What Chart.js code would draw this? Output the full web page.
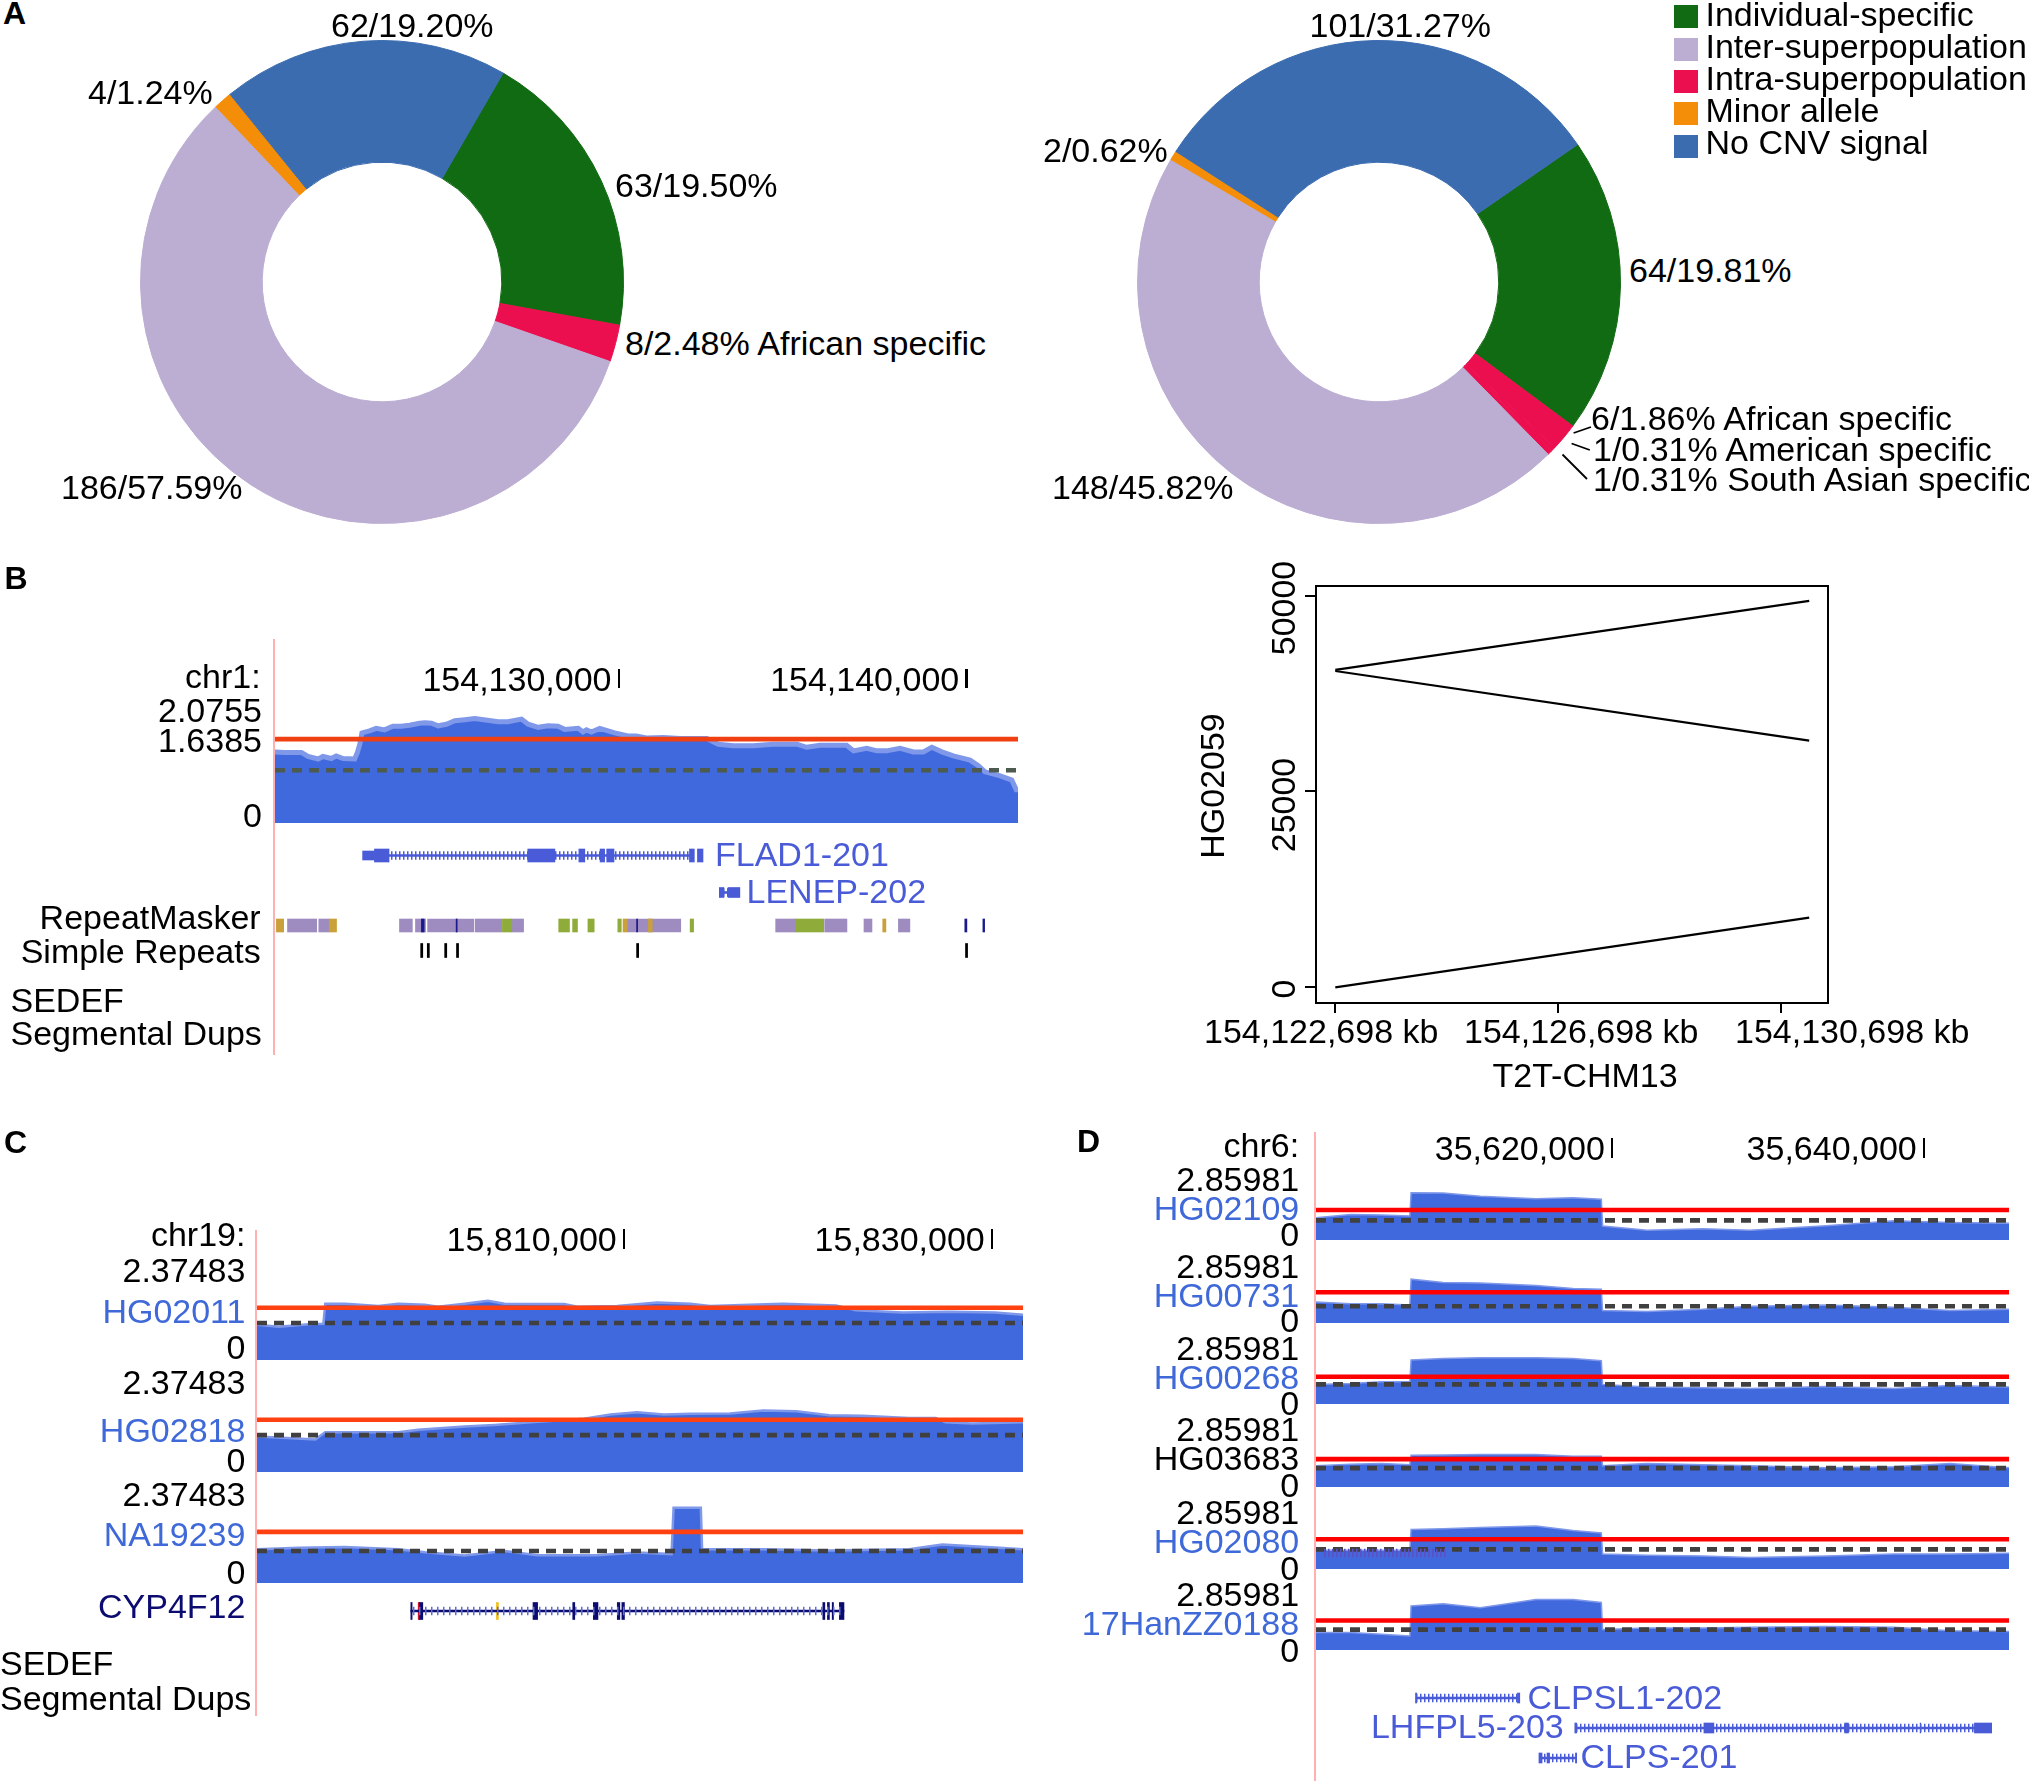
<!DOCTYPE html>
<html>
<head>
<meta charset="utf-8">
<title>CNV figure</title>
<script src="https://cdn.jsdelivr.net/npm/chart.js@4/dist/chart.umd.min.js"></script>
<style>
  html, body { margin: 0; padding: 0; background: #fff; }
  #page { position: relative; width: 2029px; height: 1781px; overflow: hidden; font-family: "Liberation Sans", Arial, sans-serif; }
  #page canvas { position: absolute; }
  .txt { position: absolute; white-space: nowrap; line-height: 1; color: #000; }
  .mark { position: absolute; }
  svg { position: absolute; left: 0; top: 0; }
</style>
</head>
<body>
<div id="page"></div>
<script>
// panel A
const categories = ['Individual-specific', 'Inter-superpopulation', 'Intra-superpopulation', 'Minor allele', 'No CNV signal'];
const categoryColors = ['#116b13', '#bcaed3', '#ec0f4f', '#f48d07', '#3b6cb0'];
const pieLeftValues = [63, 8, 186, 4, 62];
const pieLeftColors = ['#116b13', '#ec0f4f', '#bcaed3', '#f48d07', '#3b6cb0'];
const pieRightValues = [64, 6, 1, 1, 148, 2, 101];
const pieRightColors = ['#116b13', '#ec0f4f', '#ec0f4f', '#ec0f4f', '#bcaed3', '#f48d07', '#3b6cb0'];

// panel B coverage (kb on chr1, copy number)
const bTicks = [154130, 154140];
const bKb = [154120.11, 154120.40, 154120.88, 154121.07, 154121.36, 154121.50, 154121.74, 154121.88, 154122.08, 154122.41, 154122.49, 154122.56, 154122.62, 154122.84, 154123.03, 154123.27, 154123.51, 154123.75, 154123.99, 154124.28, 154124.43, 154124.62, 154124.81, 154125.05, 154125.29, 154125.58, 154125.86, 154126.34, 154126.53, 154126.82, 154127.21, 154127.40, 154127.69, 154127.97, 154128.26, 154128.45, 154128.84, 154128.98, 154129.08, 154129.22, 154129.46, 154129.70, 154129.89, 154130.27, 154130.51, 154130.80, 154131.29, 154131.77, 154132.54, 154132.87, 154133.30, 154133.88, 154134.45, 154135.13, 154135.41, 154135.80, 154136.18, 154136.56, 154136.76, 154137.14, 154137.43, 154137.71, 154138.10, 154138.48, 154138.77, 154139.01, 154139.30, 154139.63, 154140.11, 154140.35, 154140.54, 154140.98, 154141.31, 154141.44, 154141.50];
const bCover = [1.39, 1.38, 1.38, 1.30, 1.25, 1.30, 1.26, 1.31, 1.26, 1.25, 1.38, 1.54, 1.76, 1.80, 1.85, 1.82, 1.89, 1.89, 1.91, 1.95, 1.96, 1.95, 1.90, 1.93, 2.00, 2.02, 2.04, 2.00, 1.98, 1.98, 2.03, 1.93, 1.87, 1.90, 1.89, 1.83, 1.85, 1.78, 1.82, 1.78, 1.85, 1.80, 1.76, 1.70, 1.70, 1.66, 1.67, 1.65, 1.65, 1.54, 1.51, 1.51, 1.54, 1.54, 1.48, 1.52, 1.52, 1.52, 1.41, 1.46, 1.41, 1.41, 1.46, 1.39, 1.39, 1.48, 1.39, 1.31, 1.23, 1.12, 1.00, 0.92, 0.84, 0.65, 0.65];
const flad1Exons = [[154122.98, 154123.40], [154127.39, 154128.17], [154128.86, 154129.03], [154129.47, 154129.60], [154129.66, 154129.87], [154132.04, 154132.18], [154132.27, 154132.43]];
const flad1Utr = [[154122.64, 154122.98]];
const flad1Intron = [[154123.40, 154132.04]];
const lenepExons = [[154132.90, 154133.03], [154133.15, 154133.49]];
const lenepIntron = [[154133.03, 154133.15]];
const repeatPurple = [[154120.48, 154121.32], [154121.38, 154121.68], [154123.70, 154124.07], [154124.16, 154124.45], [154124.51, 154125.84], [154125.88, 154126.64], [154126.93, 154127.27], [154130.25, 154131.79], [154134.52, 154135.11], [154135.93, 154136.57], [154137.06, 154137.29], [154138.05, 154138.38]];
const repeatGold = [[154120.16, 154120.37], [154121.68, 154121.89], [154130.13, 154130.25], [154130.86, 154130.97], [154137.60, 154137.69]];
const repeatGreen = [[154126.66, 154126.93], [154128.28, 154128.59], [154128.68, 154128.82], [154129.12, 154129.30], [154129.98, 154130.08], [154132.06, 154132.16], [154135.11, 154135.90]];
const repeatNavy = [[154124.33, 154124.41], [154125.33, 154125.36], [154130.52, 154130.55], [154139.96, 154140.02], [154140.48, 154140.53]];
const simpleRepeats = [[154124.31, 154124.37], [154124.50, 154124.56], [154125.00, 154125.06], [154125.34, 154125.40], [154130.52, 154130.58], [154139.98, 154140.04]];

// panel B dot plot (bp)
const dotXTicks = [154122698, 154126698, 154130698];
const dotYTicks = [0, 25000, 50000];
const dotX = [154122698, 154131198];
const dotLine1 = [0, 8896];
const dotLine2 = [40511, 49316];
const dotLine3 = [40374, 31478];

// panel C coverage (kb on chr19)
const cTicks = [15810, 15830];
const cSamples = ['HG02011', 'HG02818', 'NA19239'];
const cKb1 = [15790.07, 15791.26, 15793.06, 15793.68, 15793.78, 15794.86, 15796.67, 15797.75, 15799.19, 15799.91, 15801.35, 15802.62, 15803.52, 15806.76, 15807.48, 15809.65, 15811.81, 15813.61, 15814.69, 15816.85, 15818.66, 15821.54, 15822.62, 15825.14, 15827.67, 15830.19, 15831.70];
const cCover1 = [0.95, 0.90, 0.97, 0.98, 1.52, 1.52, 1.46, 1.52, 1.49, 1.44, 1.52, 1.60, 1.52, 1.51, 1.44, 1.46, 1.55, 1.52, 1.46, 1.49, 1.52, 1.47, 1.34, 1.28, 1.30, 1.28, 1.22];
const cKb2 = [15790.07, 15791.98, 15793.24, 15793.78, 15795.95, 15797.75, 15798.83, 15801.35, 15802.97, 15804.96, 15807.84, 15809.28, 15810.73, 15812.17, 15813.61, 15815.77, 15817.58, 15819.38, 15821.18, 15822.98, 15825.51, 15826.95, 15827.49, 15828.93, 15831.70];
const cCover2 = [0.96, 0.91, 0.88, 1.07, 1.07, 1.07, 1.14, 1.23, 1.27, 1.34, 1.44, 1.55, 1.61, 1.55, 1.57, 1.58, 1.66, 1.64, 1.53, 1.52, 1.46, 1.46, 1.34, 1.31, 1.34];
const cKb3 = [15790.07, 15792.34, 15794.86, 15797.75, 15799.19, 15801.35, 15803.52, 15805.32, 15808.56, 15810.73, 15812.60, 15812.71, 15814.19, 15814.26, 15817.58, 15821.18, 15825.51, 15827.31, 15830.19, 15831.70];
const cCover3 = [0.91, 0.95, 0.97, 0.91, 0.83, 0.74, 0.86, 0.75, 0.75, 0.82, 0.78, 2.03, 2.03, 0.91, 0.91, 0.88, 0.91, 1.04, 0.96, 0.91];
const cRed = [1.41, 1.41, 1.38];
const cDash = [1.0, 0.995, 0.865];
const cypExons = [[15798.43, 15798.50], [15798.90, 15799.08], [15805.07, 15805.32], [15807.23, 15807.34], [15808.35, 15808.60], [15809.65, 15809.79], [15809.90, 15810.04], [15820.82, 15820.93], [15821.07, 15821.18], [15821.33, 15821.40], [15821.72, 15821.97]];
const cypRed = [[15798.83, 15798.92]];
const cypYellow = [[15803.08, 15803.19]];
const cypIntron = [[15798.43, 15821.97]];

// panel D coverage (kb on chr6)
const dTicks = [35620, 35640];
const dSamples = ['HG02109', 'HG00731', 'HG00268', 'HG03683', 'HG02080', '17HanZZ0188'];
const dKb = [35601.02, 35603.24, 35605.22, 35607.04, 35607.12, 35609.18, 35611.56, 35615.13, 35617.50, 35619.32, 35619.40, 35622.26, 35625.82, 35628.87, 35633.75, 35638.10, 35641.67, 35645.47];
const dCover1 = [1.16, 1.33, 1.30, 1.25, 2.46, 2.45, 2.27, 2.14, 2.20, 2.12, 0.73, 0.51, 0.58, 0.51, 0.74, 1.00, 0.91, 0.87];
const dCover2 = [1.09, 1.00, 1.00, 0.94, 2.28, 2.10, 2.08, 1.95, 1.80, 1.76, 0.65, 0.60, 0.71, 0.87, 0.94, 0.82, 0.65, 0.71];
const dCover3 = [1.02, 1.07, 1.16, 1.16, 2.29, 2.36, 2.41, 2.41, 2.36, 2.25, 1.02, 0.89, 0.85, 0.80, 0.91, 0.80, 0.96, 0.89];
const dCover4 = [1.11, 1.18, 1.22, 1.16, 1.65, 1.67, 1.69, 1.69, 1.60, 1.60, 1.11, 1.22, 1.16, 1.11, 1.00, 1.05, 1.22, 1.00];
const dCover5 = [0.98, 0.98, 0.98, 0.98, 2.05, 2.09, 2.16, 2.23, 2.00, 1.87, 0.78, 0.71, 0.67, 0.60, 0.67, 0.78, 0.78, 0.82];
const dCover6 = [0.91, 0.91, 0.82, 0.73, 2.29, 2.41, 2.20, 2.63, 2.63, 2.47, 1.07, 1.14, 1.14, 1.18, 1.22, 1.18, 1.00, 0.96];
const dRed = [1.56, 1.60, 1.42, 1.45, 1.55, 1.53];
const dDash = [1.02, 0.87, 1.02, 0.98, 1.02, 1.06];
const clpsl1Exons = [[35607.40, 35607.48], [35613.94, 35614.09]];
const clpsl1Intron = [[35607.48, 35613.94]];
const lhfpl5Exons = [[35617.62, 35617.74], [35625.90, 35626.54], [35634.93, 35635.17], [35639.77, 35639.81], [35643.25, 35644.36]];
const lhfpl5Intron = [[35617.74, 35643.25]];
const clpsExons = [[35615.32, 35615.52], [35615.84, 35616.00], [35617.66, 35617.74]];
const clpsIntron = [[35615.52, 35617.66]];
const hg02080Ghost = [[35601.46, 35609.38]];

const page = document.getElementById('page');
const BASE = 0.8465;
const FONT = 34;
const LINK_BLUE = '#3f69d8';
const GENE_BLUE = '#4a5bd8';
const NAVY = '#0b0b70';

Chart.defaults.animation = false;
Chart.defaults.responsive = false;
Chart.defaults.devicePixelRatio = 1;
Chart.defaults.plugins.legend.display = false;
Chart.defaults.plugins.tooltip.enabled = false;

function addText(text, x, base, opt) {
    opt = opt || {};
    const size = opt.size || FONT;
    const el = document.createElement('div');
    el.className = 'txt';
    el.textContent = text;
    el.style.fontSize = size + 'px';
    if (opt.color) el.style.color = opt.color;
    if (opt.bold) el.style.fontWeight = 'bold';
    el.style.top = (base + 0.8 - BASE * size) + 'px';
    if (opt.right) el.style.right = (2029 - x) + 'px';
    else el.style.left = x + 'px';
    page.appendChild(el);
    return el;
}

// reads bottom to top, x is the baseline and y the middle of the text
function addTextUp(text, x, y) {
    const el = document.createElement('div');
    el.className = 'txt';
    el.textContent = text;
    el.style.fontSize = FONT + 'px';
    el.style.left = x + 'px';
    el.style.top = y + 'px';
    el.style.transformOrigin = '0 0';
    el.style.transform = 'rotate(-90deg) translate(-50%, -' + BASE + 'em)';
    page.appendChild(el);
}

function addBox(x, y, w, h, color) {
    const el = document.createElement('div');
    el.className = 'mark';
    el.style.cssText = 'left:' + x + 'px;top:' + y + 'px;width:' + w + 'px;height:' + h + 'px;background:' + color;
    page.appendChild(el);
}

function newCanvas(x, y, w, h) {
    const c = document.createElement('canvas');
    c.width = w;
    c.height = h;
    c.style.left = x + 'px';
    c.style.top = y + 'px';
    c.style.width = w + 'px';
    c.style.height = h + 'px';
    page.appendChild(c);
    return c;
}

function donut(x, y, size, values, colors, rotation) {
    return new Chart(newCanvas(x, y, size, size), {
        type: 'doughnut',
        data: { labels: values.map(String), datasets: [{ data: values, backgroundColor: colors, borderColor: colors, borderWidth: 1, hoverBorderWidth: 0 }] },
        options: { cutout: '49.6%', rotation: rotation, layout: { padding: 0 } }
    });
}

function toXY(xs, ys) {
    return xs.map((x, i) => ({ x: x, y: ys[i] }));
}

// one coverage track: fill, light top edge, cut-off line and dashed diploid line
function track(rect, xMin, xMax, yMax, xs, ys, red, dash, o) {
    return new Chart(newCanvas(rect[0], rect[1], rect[2], rect[3]), {
        type: 'line',
        data: {
            datasets: [
                { data: toXY([xMin, xMax], [dash, dash]), borderColor: o.dashColor, borderWidth: 4.6, borderDash: [10, 7], pointRadius: 0, fill: false },
                { data: toXY([xMin, xMax], [red, red]), borderColor: o.redColor, borderWidth: 4.6, pointRadius: 0, fill: false },
                { data: toXY(xs, ys), borderColor: '#7f98ea', borderWidth: o.edge, backgroundColor: '#4169de', pointRadius: 0, fill: 'origin', tension: 0 }
            ]
        },
        options: {
            layout: { padding: 0 },
            scales: {
                x: { type: 'linear', min: xMin, max: xMax, display: false },
                y: { min: 0, max: yMax, display: false }
            }
        }
    });
}

function spanData(spans, row) {
    return spans.map(s => ({ x: s, y: row }));
}

// stripes for the intron hatching
function hatch(color, period) {
    const t = document.createElement('canvas');
    t.width = period;
    t.height = 4;
    const g = t.getContext('2d');
    g.fillStyle = color;
    g.fillRect(0, 0, 1.5, 4);
    return g.createPattern(t, 'repeat');
}

function rowChart(rect, xMin, xMax, rows, datasets) {
    return new Chart(newCanvas(rect[0], rect[1], rect[2], rect[3]), {
        type: 'bar',
        data: { labels: rows, datasets: datasets.map(d => Object.assign({ grouped: false, borderWidth: 0 }, d)) },
        options: {
            indexAxis: 'y',
            layout: { padding: 0 },
            scales: {
                x: { type: 'linear', min: xMin, max: xMax, display: false },
                y: { type: 'category', labels: rows, display: false }
            }
        }
    });
}

function geneDatasets(spansList, row, color, hatchColor, period) {
    const out = [];
    if (spansList.intron) {
        out.push({ data: spanData(spansList.intron, row), backgroundColor: hatch(hatchColor || color, period || 4), barThickness: 8 });
        out.push({ data: spanData(spansList.intron, row), backgroundColor: color, barThickness: 2 });
    }
    if (spansList.utr) out.push({ data: spanData(spansList.utr, row), backgroundColor: color, barThickness: 9 });
    if (spansList.exons) out.push({ data: spanData(spansList.exons, row), backgroundColor: color, barThickness: spansList.h || 13 });
    return out;
}

// the "154,130,000 |" labels above a track, placed through the track's x scale
function rulerLabels(chart, ticks, canvasLeft, base, tickTop, tickH) {
    ticks.forEach(t => {
        const px = canvasLeft + chart.scales.x.getPixelForValue(t);
        addBox(px - 1, tickTop, 2.5, tickH, '#000');
        addText((t * 1000).toLocaleString('en-US'), px - 7, base, { right: true });
    });
}

// ---------- panel A ----------
addText('A', 3, 23, { bold: true, size: 32 });
donut(140, 40, 484, pieLeftValues, pieLeftColors, 30.1);
addText('62/19.20%', 331, 36);
addText('4/1.24%', 88, 102.6);
addText('63/19.50%', 615, 195.6);
addText('8/2.48% African specific', 625, 354);
addText('186/57.59%', 61, 498);

donut(1137, 40, 484, pieRightValues, pieRightColors, 55.3);
addText('101/31.27%', 1309.5, 36);
addText('2/0.62%', 1043, 161);
addText('64/19.81%', 1629, 281);
addText('148/45.82%', 1052, 498);
addText('6/1.86% African specific', 1591, 428.7);
addText('1/0.31% American specific', 1593, 460.4);
addText('1/0.31% South Asian specific', 1593, 490);

const legendTops = [5, 38, 70, 102, 135];
const legendBases = [24.8, 56.8, 88.8, 121, 153];
categories.forEach((name, i) => {
    addBox(1674, legendTops[i], 23.5, 23, categoryColors[i]);
    addText(name, 1705.5, legendBases[i]);
});

const leaders = document.createElementNS('http://www.w3.org/2000/svg', 'svg');
leaders.setAttribute('width', 2029);
leaders.setAttribute('height', 1781);
[[1573.6, 433, 1591, 427], [1571.6, 443.5, 1589.8, 450], [1562.5, 454.5, 1587, 479]].forEach(l => {
    const line = document.createElementNS('http://www.w3.org/2000/svg', 'line');
    line.setAttribute('x1', l[0]);
    line.setAttribute('y1', l[1]);
    line.setAttribute('x2', l[2]);
    line.setAttribute('y2', l[3]);
    line.setAttribute('stroke', '#000');
    line.setAttribute('stroke-width', 1.8);
    leaders.appendChild(line);
});
page.appendChild(leaders);

// ---------- panel B left ----------
addText('B', 4.6, 588, { bold: true, size: 32 });
addBox(273, 639, 2, 416, '#ffb0b0');
addText('chr1:', 260.7, 687, { right: true });
addText('2.0755', 262, 721, { right: true });
addText('1.6385', 262, 750.5, { right: true });
addText('0', 262, 825.5, { right: true });
const bMin = 154120.12, bMax = 154141.49;
const bChart = track([275, 713, 743, 110], bMin, bMax, 2.15, bKb, bCover, 1.6385, 1.03, { redColor: '#f04012', dashColor: '#4c5a50', edge: 5 });
rulerLabels(bChart, bTicks, 275, 689.5, 669, 19);

rowChart([275, 836.5, 743, 74], bMin, bMax, ['FLAD1-201', 'LENEP-202'],
    geneDatasets({ intron: flad1Intron, utr: flad1Utr, exons: flad1Exons }, 'FLAD1-201', GENE_BLUE)
        .concat(geneDatasets({ intron: lenepIntron, exons: lenepExons, h: 10 }, 'LENEP-202', GENE_BLUE)));
addText('FLAD1-201', 715, 864.5, { color: GENE_BLUE });
addText('LENEP-202', 746.5, 902, { color: GENE_BLUE });

rowChart([275, 913, 743, 50], bMin, bMax, ['RepeatMasker', 'Simple Repeats'], [
    { data: spanData(repeatNavy, 'RepeatMasker'), backgroundColor: '#1a1a8c', barThickness: 13 },
    { data: spanData(repeatGold, 'RepeatMasker'), backgroundColor: '#c9a03a', barThickness: 13 },
    { data: spanData(repeatGreen, 'RepeatMasker'), backgroundColor: '#8fac3a', barThickness: 13 },
    { data: spanData(repeatPurple, 'RepeatMasker'), backgroundColor: '#9e8cc0', barThickness: 13 },
    { data: spanData(simpleRepeats, 'Simple Repeats'), backgroundColor: '#000', barThickness: 14 }
]);
addText('RepeatMasker', 260.7, 928, { right: true });
addText('Simple Repeats', 260.7, 962, { right: true });
addText('SEDEF', 10.5, 1010.5);
addText('Segmental Dups', 10.5, 1043.5);

// ---------- panel B right ----------
const boxFrame = {
    id: 'boxFrame',
    afterDraw(chart) {
        const a = chart.chartArea, g = chart.ctx;
        g.save();
        g.strokeStyle = '#000';
        g.lineWidth = 2;
        g.strokeRect(a.left, a.top, a.right - a.left, a.bottom - a.top);
        g.restore();
    }
};
const dotStyle = { borderColor: '#000', borderWidth: 2.2, pointRadius: 0, showLine: true };
new Chart(newCanvas(1300, 580, 540, 440), {
    type: 'scatter',
    data: {
        datasets: [
            Object.assign({ data: toXY(dotX, dotLine1) }, dotStyle),
            Object.assign({ data: toXY(dotX, dotLine2) }, dotStyle),
            Object.assign({ data: toXY(dotX, dotLine3) }, dotStyle)
        ]
    },
    options: {
        layout: { padding: { left: 5, top: 6, right: 12, bottom: 7 } },
        scales: {
            x: {
                type: 'linear', min: 154122352, max: 154131535,
                afterBuildTicks(s) { s.ticks = dotXTicks.map(v => ({ value: v })); },
                afterFit(s) { s.height = 10; },
                ticks: { display: false },
                border: { display: false },
                grid: { drawOnChartArea: false, tickLength: 10, color: '#000', lineWidth: 2 }
            },
            y: {
                type: 'linear', min: -2005, max: 51226,
                afterBuildTicks(s) { s.ticks = dotYTicks.map(v => ({ value: v })); },
                afterFit(s) { s.width = 11; },
                ticks: { display: false },
                border: { display: false },
                grid: { drawOnChartArea: false, tickLength: 11, color: '#000', lineWidth: 2 }
            }
        }
    },
    plugins: [boxFrame]
});
addTextUp('50000', 1295, 608);
addTextUp('25000', 1295, 805);
addTextUp('0', 1295, 989);
addTextUp('HG02059', 1224, 786);
addText('154,122,698 kb', 1204, 1041.8);
addText('154,126,698 kb', 1464, 1041.8);
addText('154,130,698 kb', 1735, 1041.8);
addText('T2T-CHM13', 1492.5, 1085.7);

// ---------- panel C ----------
addText('C', 4, 1152.3, { bold: true, size: 32 });
addBox(254.5, 1229.8, 2, 486, '#ffb0b0');
addText('chr19:', 245.4, 1245.2, { right: true });
const cMin = 15790.07, cMax = 15831.70;
const cTops = [1272, 1384, 1494.5];
const cData = [[cKb1, cCover1], [cKb2, cCover2], [cKb3, cCover3]];
const cScaleBase = [1280.8, 1393, 1505.4];
const cNameBase = [1321.5, 1441.4, 1545];
const cZeroBase = [1358, 1470.6, 1582.5];
let cFirst;
cSamples.forEach((name, i) => {
    const c = track([257, cTops[i], 766, 88], cMin, cMax, 2.37483, cData[i][0], cData[i][1], cRed[i], cDash[i], { redColor: '#ff4010', dashColor: '#404040', edge: 2.5 });
    if (i === 0) cFirst = c;
    addText('2.37483', 245.4, cScaleBase[i], { right: true });
    addText(name, 245.4, cNameBase[i], { right: true, color: LINK_BLUE });
    addText('0', 245.4, cZeroBase[i], { right: true });
});
rulerLabels(cFirst, cTicks, 257, 1250.4, 1228.6, 20);

rowChart([257, 1596, 766, 30], cMin, cMax, ['CYP4F12'],
    geneDatasets({ intron: cypIntron, exons: cypExons, h: 17 }, 'CYP4F12', NAVY, '#5f6fd0', 6).concat([
        { data: spanData(cypRed, 'CYP4F12'), backgroundColor: '#d01030', barThickness: 17 },
        { data: spanData(cypYellow, 'CYP4F12'), backgroundColor: '#f0c020', barThickness: 17 }
    ]));
addText('CYP4F12', 245.4, 1617, { right: true, color: NAVY });
addText('SEDEF', 0, 1674);
addText('Segmental Dups', 0, 1709);

// ---------- panel D ----------
addText('D', 1077, 1151.5, { bold: true, size: 32 });
addBox(1314, 1132, 2, 649, '#ffb0b0');
addText('chr6:', 1299.2, 1156.2, { right: true });
const dMin = 35601.02, dMax = 35645.47;
const dTops = [1185, 1268, 1349, 1432, 1514, 1595];
const dCovers = [dCover1, dCover2, dCover3, dCover4, dCover5, dCover6];
const dScaleBase = [1190.4, 1276.9, 1359, 1440.3, 1522.9, 1605];
const dNameBase = [1219, 1306, 1388, 1469.4, 1552, 1634.2];
const dZeroBase = [1244.8, 1331.2, 1413.8, 1496, 1578.5, 1660.7];
let dFirst;
dSamples.forEach((name, i) => {
    const c = track([1316, dTops[i], 693, 55], dMin, dMax, 2.85981, dKb, dCovers[i], dRed[i], dDash[i], { redColor: '#ff0000', dashColor: '#404040', edge: 1.5 });
    if (i === 0) dFirst = c;
    addText('2.85981', 1299.2, dScaleBase[i], { right: true });
    addText(name, 1299.2, dNameBase[i], { right: true, color: name === 'HG03683' ? '#000' : LINK_BLUE });
    addText('0', 1299.2, dZeroBase[i], { right: true });
});
rulerLabels(dFirst, dTicks, 1316, 1159, 1138, 20);

rowChart([1316, 1548, 693, 10], dMin, dMax, ['ghost'],
    [{ data: spanData(hg02080Ghost, 'ghost'), backgroundColor: hatch('#5a4fc4', 4), barThickness: 8 }]);

rowChart([1316, 1683, 693, 90], dMin, dMax, ['CLPSL1-202', 'LHFPL5-203', 'CLPS-201'],
    geneDatasets({ intron: clpsl1Intron, exons: clpsl1Exons, h: 10 }, 'CLPSL1-202', GENE_BLUE)
        .concat(geneDatasets({ intron: lhfpl5Intron, exons: lhfpl5Exons, h: 10 }, 'LHFPL5-203', GENE_BLUE))
        .concat(geneDatasets({ intron: clpsIntron, exons: clpsExons, h: 10 }, 'CLPS-201', GENE_BLUE)));
addText('CLPSL1-202', 1527.5, 1707.8, { color: GENE_BLUE });
addText('LHFPL5-203', 1563.7, 1736.9, { right: true, color: GENE_BLUE });
addText('CLPS-201', 1580.5, 1766.8, { color: GENE_BLUE });
</script>
</body>
</html>
